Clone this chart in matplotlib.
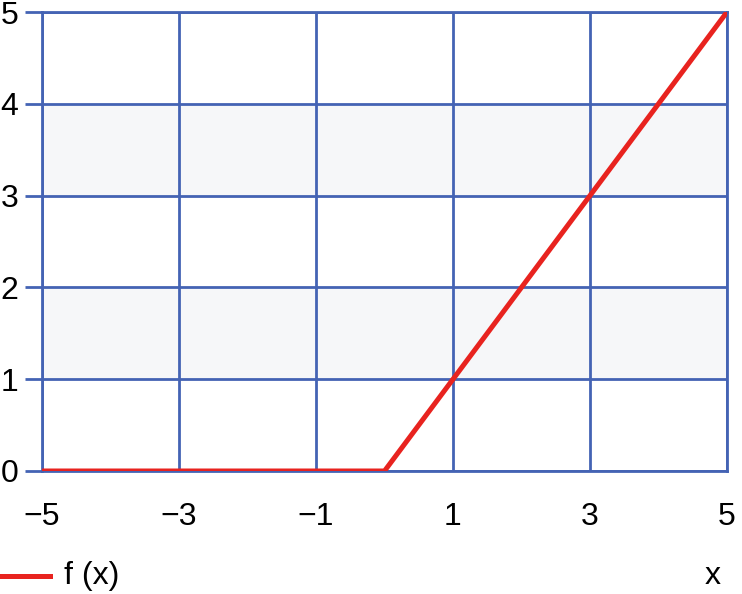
#!/usr/bin/env python3
import matplotlib
matplotlib.use("Agg")
import matplotlib.pyplot as plt

# piecewise linear f(x): flat at 0, then rising
x_values = [-5, 0, 5]
y_values = [0, 0, 5]
x_ticks = [-5, -3, -1, 1, 3, 5]
y_ticks = [0, 1, 2, 3, 4, 5]
shaded_bands = [(1, 2), (3, 4)]

grid_color = "#4463b4"
line_color = "#e8231f"
font = ["Liberation Sans", "DejaVu Sans"]

fig = plt.figure(figsize=(7.42, 5.94), dpi=100)
ax = fig.add_axes([42 / 742, 1 - 471 / 594, 685 / 742, 459 / 594])

for low, high in shaded_bands:
    ax.axhspan(low, high, color="#f6f7f9", zorder=0)

ax.plot(x_values, y_values, color=line_color, linewidth=3.6, zorder=3,
        solid_capstyle="butt")

ax.set_xlim(-5, 5)
ax.set_ylim(0, 5)
ax.set_xticks(x_ticks)
ax.set_yticks(y_ticks)
ax.grid(True, color=grid_color, linewidth=2.0, zorder=1)
ax.set_axisbelow(True)

for spine in ax.spines.values():
    spine.set_color(grid_color)
    spine.set_linewidth(2.0)

ax.tick_params(axis="y", length=12, width=2.0, color=grid_color, pad=5)
ax.tick_params(axis="x", length=0, pad=22)
for label in ax.get_xticklabels() + ax.get_yticklabels():
    label.set_fontfamily(font)
    label.set_fontsize(23)

# legend and axis name along the bottom
fig.lines.append(plt.Line2D([2 / 742, 50 / 742], [1 - 576 / 594] * 2,
                            color=line_color, linewidth=3.6,
                            transform=fig.transFigure))
fig.text(64 / 742, 1 - 576 / 594, "f (x)", fontsize=23, family=font,
         va="center", ha="left")
fig.text(713 / 742, 1 - 576 / 594, "x", fontsize=23, family=font,
         va="center", ha="center")

fig.savefig("out.png", dpi=100)
